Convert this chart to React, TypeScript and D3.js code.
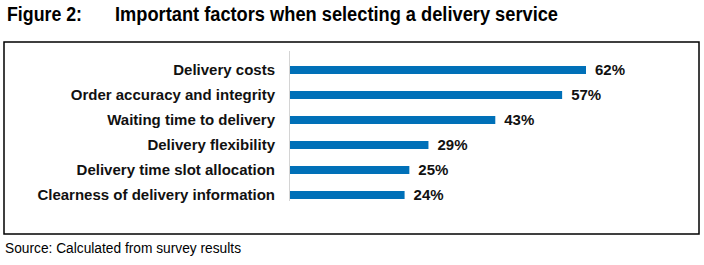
import React from "react";
import * as d3 from "d3";

const categories = [
  "Delivery costs",
  "Order accuracy and integrity",
  "Waiting time to delivery",
  "Delivery flexibility",
  "Delivery time slot allocation",
  "Clearness of delivery information",
];
const values = [62, 57, 43, 29, 25, 24];
const titleNumber = "Figure 2:";
const titleText = "Important factors when selecting a delivery service";
const sourceText = "Source: Calculated from survey results";

const W = 704;
const H = 265;
const FONT = "'Liberation Sans', Arial, sans-serif";

export default function App() {
  const x = d3.scaleLinear().domain([0, 62]).range([290, 586]);
  const y = d3.scaleBand<string>().domain(categories).range([51, 201]);
  const step = y.step();
  const barOffset = step * 0.6;
  const barH = step * 0.32;

  return (
    <svg
      width={W}
      height={H}
      style={{ position: "absolute", left: 0, top: 0, background: "#fff" }}
      fontFamily={FONT}
    >
      <rect x={0} y={0} width={W} height={H} fill="#fff" />
      <text
        x={7}
        y={21}
        fontSize={19.5}
        fontWeight="bold"
        fill="#000"
        textLength={75}
        lengthAdjust="spacingAndGlyphs"
      >
        {titleNumber}
      </text>
      <text
        x={115}
        y={21}
        fontSize={19.5}
        fontWeight="bold"
        fill="#000"
        textLength={443}
        lengthAdjust="spacingAndGlyphs"
      >
        {titleText}
      </text>
      <rect x={4} y={42} width={695} height={192} fill="none" stroke="#000" strokeWidth={1.5} />
      <line x1={289.5} x2={289.5} y1={y.range()[0]} y2={y.range()[1]} stroke="#d4d4d4" strokeWidth={1} />
      {categories.map((c, i) => {
        const by = (y(c) ?? 0) + barOffset;
        const cy = by + barH / 2;
        return (
          <g key={c}>
            <rect x={x(0)} y={by} width={x(values[i]) - x(0)} height={barH} fill="#0070B8" />
            <text
              x={275}
              y={cy + 5.3}
              textAnchor="end"
              fontSize={15}
              fontWeight="bold"
              fill="#111"
            >
              {c}
            </text>
            <text x={x(values[i]) + 9} y={cy + 5.3} fontSize={15} fontWeight="bold" fill="#111">
              {values[i]}%
            </text>
          </g>
        );
      })}
      <text
        x={5}
        y={252.5}
        fontSize={15.5}
        fill="#000"
        textLength={236}
        lengthAdjust="spacingAndGlyphs"
      >
        {sourceText}
      </text>
    </svg>
  );
}
